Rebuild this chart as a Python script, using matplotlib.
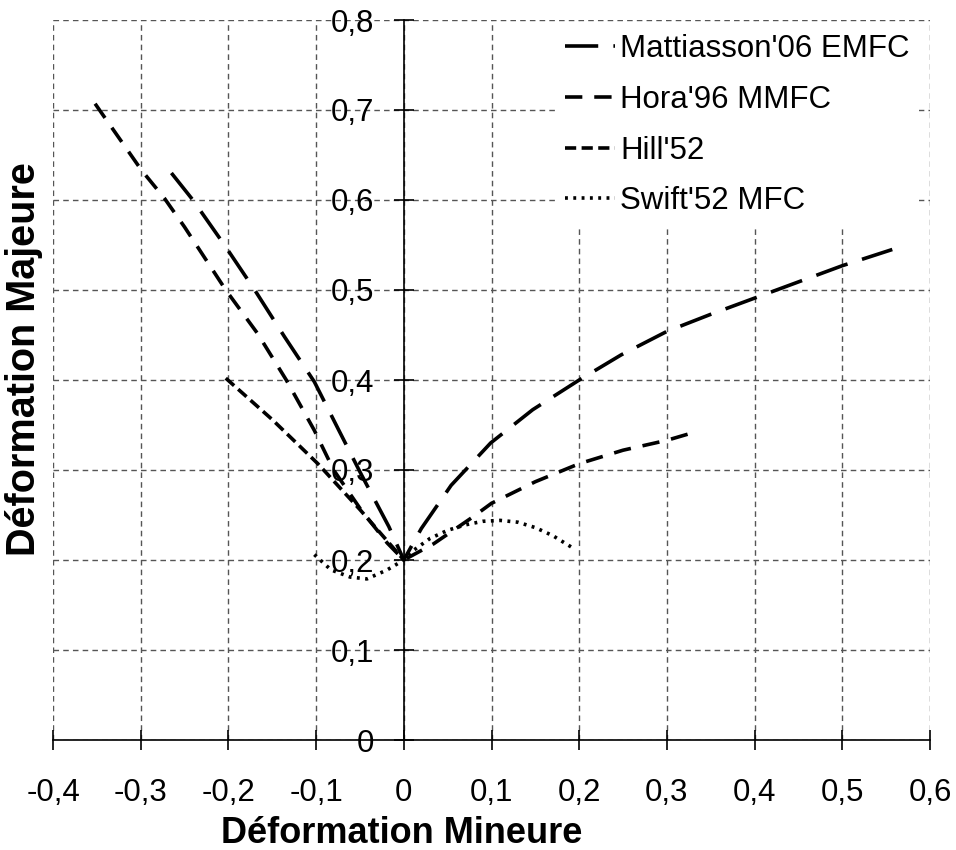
import matplotlib
matplotlib.use('Agg')
import matplotlib.pyplot as plt
from matplotlib.ticker import FuncFormatter, MultipleLocator

plt.rcParams['font.family'] = ['Liberation Sans', 'DejaVu Sans']

# Mattiasson'06 EMFC
matt_x = [-0.265, -0.2405, -0.2045, -0.17, -0.136, -0.102, -0.074, -0.049, -0.017, 0.0,
          0.02, 0.054, 0.099, 0.147, 0.2, 0.248, 0.3, 0.35, 0.4, 0.45, 0.5, 0.557]
matt_y = [0.63, 0.6, 0.55, 0.5, 0.448, 0.398, 0.344, 0.296, 0.237, 0.2,
          0.235, 0.283, 0.33, 0.367, 0.4, 0.428, 0.454, 0.473, 0.491, 0.509, 0.527, 0.545]

# Hora'96 MMFC
hora_x = [-0.352, -0.299, -0.273, -0.25, -0.203, -0.167, -0.134, -0.102, -0.08, -0.049, -0.019, 0.0,
          0.034, 0.079, 0.1, 0.15, 0.2, 0.25, 0.3, 0.335]
hora_y = [0.707, 0.633, 0.602, 0.57, 0.5, 0.452, 0.4, 0.344, 0.3, 0.256, 0.219, 0.2,
          0.218, 0.248, 0.263, 0.287, 0.307, 0.322, 0.333, 0.343]

# Hill'52
hill_x = [-0.203, -0.15, -0.098, -0.05, 0.0]
hill_y = [0.402, 0.356, 0.307, 0.256, 0.2]

# Swift'52 MFC
swift_x = [-0.102, -0.083, -0.061, -0.042, -0.019, 0.0,
           0.01, 0.03, 0.05, 0.07, 0.09, 0.11, 0.13, 0.15, 0.17, 0.195]
swift_y = [0.206, 0.189, 0.181, 0.179, 0.189, 0.2,
           0.21, 0.224, 0.233, 0.239, 0.243, 0.244, 0.242, 0.236, 0.227, 0.212]

fig = plt.figure(figsize=(9.56, 8.5), dpi=100)
ax = fig.add_axes([53/956, 1 - 740/850, 877/956, 720/850])

lw = 2.6
ax.plot(matt_x, matt_y, color='black', lw=lw, dashes=(9.2, 4.2), label="Mattiasson'06 EMFC", zorder=3)
ax.plot(hora_x, hora_y, color='black', lw=lw, dashes=(4.8, 3.3), label="Hora'96 MMFC", zorder=3)
ax.plot(hill_x, hill_y, color='black', lw=lw, dashes=(3.1, 1.5), label="Hill'52", zorder=3)
ax.plot(swift_x, swift_y, color='black', lw=lw, dashes=(0.8, 1.5), label="Swift'52 MFC", zorder=3)

ax.set_xlim(-0.4, 0.6)
ax.set_ylim(0, 0.8)
ax.xaxis.set_major_locator(MultipleLocator(0.1))
ax.yaxis.set_major_locator(MultipleLocator(0.1))
fmt = FuncFormatter(lambda v, _: ('%g' % round(v, 1)).replace('.', ','))
ax.xaxis.set_major_formatter(fmt)
ax.yaxis.set_major_formatter(fmt)

ax.spines['left'].set_position(('data', 0))
ax.spines['bottom'].set_position(('data', 0))
ax.spines['top'].set_visible(False)
ax.spines['right'].set_visible(False)
for s in ('left', 'bottom'):
    ax.spines[s].set_linewidth(1.2)
    ax.spines[s].set_zorder(2.5)

ax.tick_params(axis='both', direction='inout', length=15, width=1.2, labelsize=22.5)
ax.tick_params(axis='x', pad=20)
ax.tick_params(axis='y', pad=14)

ax.grid(True, color='#555555', linestyle=(0, (4, 3)), linewidth=1.0, zorder=1)
ax.set_axisbelow(True)

ax.set_xlabel('Déformation Mineure', fontsize=26, fontweight='bold')
ax.set_ylabel('Déformation Majeure', fontsize=28.5, fontweight='bold')
ax.xaxis.set_label_coords(0.398, -0.106)
ax.yaxis.set_label_coords(-0.0114, 0.529)

leg = ax.legend(loc='upper left', bbox_to_anchor=(0.5735, 0.993), fontsize=22.5, frameon=True,
                handlelength=1.6, handletextpad=0.15, labelspacing=0.66,
                borderpad=0.3, borderaxespad=0.0, fancybox=False)
leg.get_frame().set_facecolor('white')
leg.get_frame().set_edgecolor('none')
leg.get_frame().set_alpha(1)

fig.savefig('out.png', dpi=100)
